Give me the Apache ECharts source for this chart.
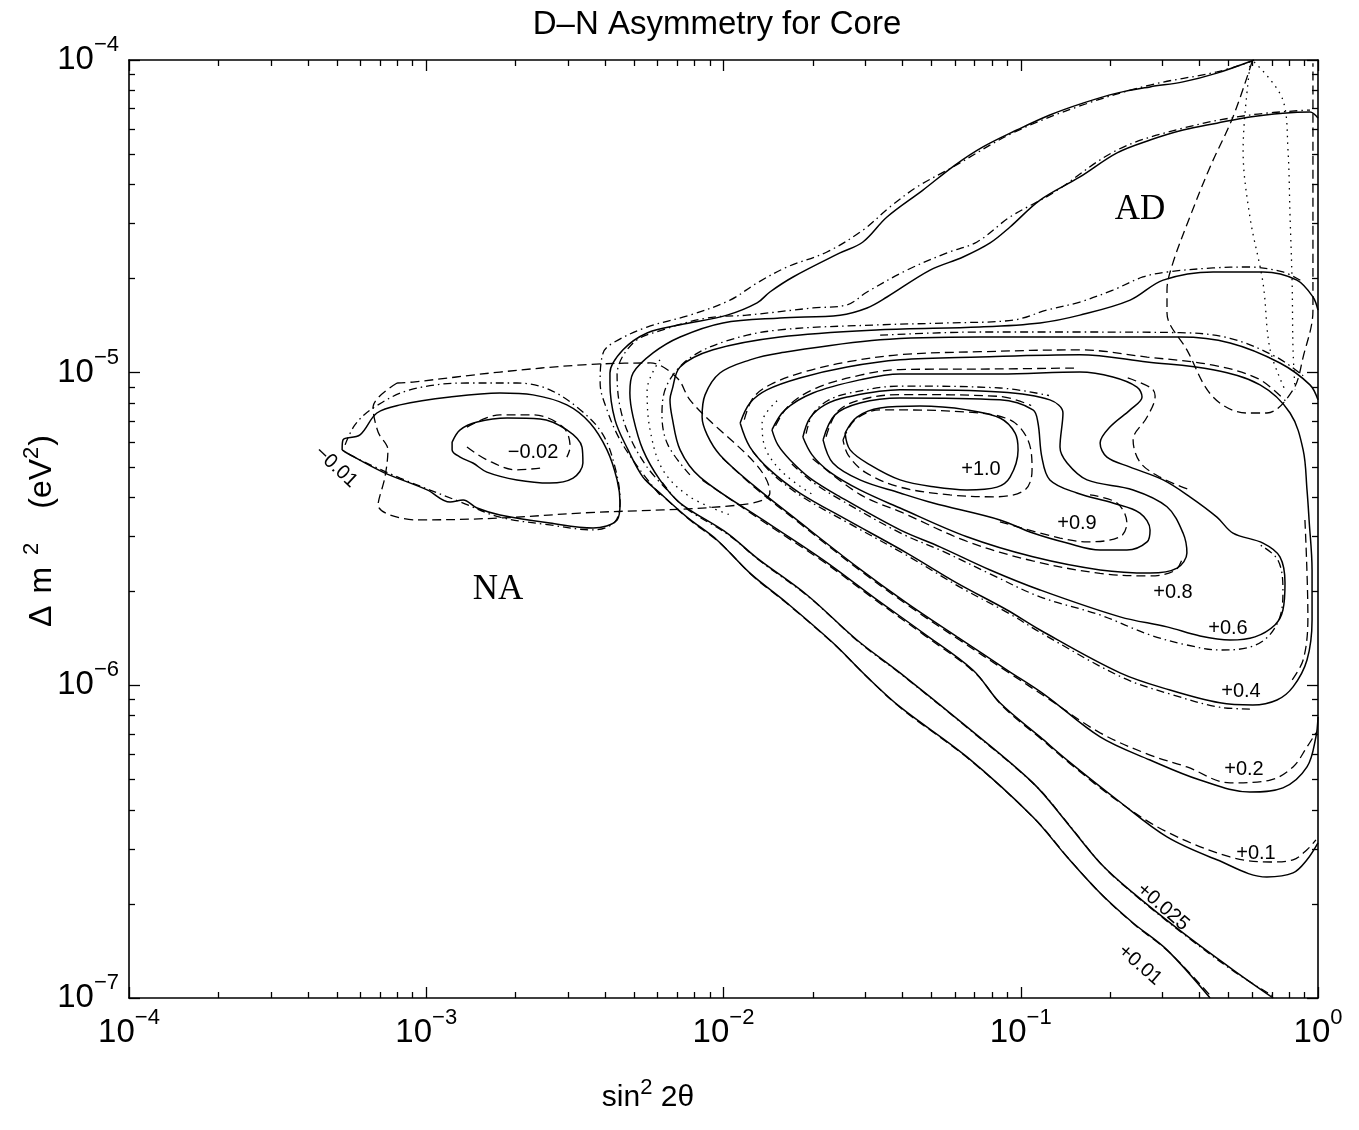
<!DOCTYPE html>
<html>
<head>
<meta charset="utf-8">
<title>D-N Asymmetry for Core</title>
<script src="https://cdn.jsdelivr.net/npm/echarts@6/dist/echarts.min.js"></script>
<style>
html, body { margin: 0; padding: 0; background: #fff; }
#chart { width: 1359px; height: 1130px; }
</style>
</head>
<body>
<div id="chart"></div>
<script>
// all points are [log10(sin^2 2theta), log10(dm^2 / eV^2)]
const xDecades = [-4, -3, -2, -1, 0];
const yDecades = [-7, -6, -5, -4];

// solid contours (one per asymmetry level)
const solid01 = [[-0.215,-4.000],[-0.340,-4.042],[-0.454,-4.070],[-0.565,-4.086],[-0.676,-4.106],[-0.791,-4.138],[-0.902,-4.176],[-1.013,-4.224],[-1.127,-4.278],[-1.221,-4.336],[-1.329,-4.416],[-1.450,-4.502],[-1.531,-4.582],[-1.608,-4.617],[-1.766,-4.694],[-1.844,-4.742],[-1.887,-4.777],[-1.988,-4.816],[-2.146,-4.847],[-2.257,-4.873],[-2.338,-4.927],[-2.382,-5.001],[-2.382,-5.033],[-2.365,-5.151],[-2.321,-5.247],[-2.271,-5.334],[-2.214,-5.385],[-2.123,-5.462],[-2.022,-5.535],[-1.911,-5.641],[-1.786,-5.737],[-1.632,-5.864],[-1.517,-5.973],[-1.406,-6.069],[-1.181,-6.229],[-0.959,-6.421],[-0.844,-6.549],[-0.733,-6.664],[-0.622,-6.760],[-0.508,-6.846],[-0.363,-7.000]];
const solid025 = [[0,-4.186],[-0.027,-4.166],[-0.118,-4.170],[-0.229,-4.182],[-0.340,-4.202],[-0.454,-4.224],[-0.565,-4.256],[-0.676,-4.297],[-0.801,-4.374],[-0.935,-4.448],[-1.036,-4.534],[-1.103,-4.585],[-1.194,-4.630],[-1.305,-4.672],[-1.450,-4.758],[-1.517,-4.793],[-1.608,-4.816],[-1.810,-4.825],[-2.002,-4.841],[-2.146,-4.886],[-2.237,-4.937],[-2.304,-5.001],[-2.315,-5.065],[-2.304,-5.142],[-2.271,-5.247],[-2.214,-5.343],[-2.146,-5.417],[-1.988,-5.513],[-1.887,-5.593],[-1.719,-5.711],[-1.551,-5.855],[-1.406,-5.960],[-1.181,-6.133],[-0.959,-6.312],[-0.844,-6.440],[-0.733,-6.568],[-0.622,-6.664],[-0.454,-6.792],[-0.286,-6.910],[-0.151,-7.000]];
const solid1 = [[0,-4.800],[-0.017,-4.758],[-0.071,-4.704],[-0.185,-4.678],[-0.353,-4.678],[-0.521,-4.704],[-0.632,-4.768],[-0.801,-4.816],[-0.935,-4.841],[-1.137,-4.854],[-1.473,-4.863],[-1.810,-4.886],[-2.035,-4.927],[-2.146,-4.982],[-2.173,-5.055],[-2.180,-5.087],[-2.173,-5.142],[-2.146,-5.247],[-2.079,-5.334],[-1.867,-5.471],[-1.665,-5.599],[-1.497,-5.717],[-1.329,-5.832],[-1.161,-5.951],[-1.070,-6.056],[-0.935,-6.165],[-0.844,-6.239],[-0.676,-6.366],[-0.508,-6.485],[-0.340,-6.558],[-0.172,-6.613],[-0.084,-6.600],[-0.037,-6.558],[0,-6.504]];
const solid2 = [[0,-5.087],[-0.027,-5.039],[-0.128,-4.969],[-0.296,-4.905],[-0.464,-4.886],[-0.801,-4.886],[-1.137,-4.886],[-1.473,-4.895],[-1.810,-4.937],[-1.911,-4.959],[-2.012,-5.001],[-2.062,-5.071],[-2.072,-5.142],[-2.055,-5.199],[-2.012,-5.263],[-1.901,-5.359],[-1.753,-5.471],[-1.551,-5.621],[-1.383,-5.737],[-1.214,-5.845],[-1.046,-5.951],[-0.918,-6.031],[-0.733,-6.165],[-0.565,-6.239],[-0.397,-6.303],[-0.229,-6.341],[-0.118,-6.328],[-0.037,-6.261],[-0.007,-6.165],[0,-6.101]];
const solid4 = [[-1.944,-5.161],[-1.911,-5.097],[-1.854,-5.055],[-1.743,-5.017],[-1.584,-4.982],[-1.406,-4.959],[-1.137,-4.950],[-0.801,-4.943],[-0.575,-4.966],[-0.353,-4.991],[-0.195,-5.039],[-0.094,-5.129],[-0.050,-5.247],[-0.037,-5.375],[-0.030,-5.471],[-0.020,-5.631],[-0.020,-5.791],[-0.037,-5.919],[-0.084,-6.005],[-0.138,-6.047],[-0.219,-6.063],[-0.330,-6.056],[-0.498,-6.015],[-0.666,-5.960],[-0.935,-5.823],[-1.046,-5.759],[-1.214,-5.673],[-1.383,-5.577],[-1.584,-5.471],[-1.743,-5.385],[-1.844,-5.311],[-1.911,-5.238],[-1.944,-5.161]];
const solid6 = [[-1.837,-5.183],[-1.793,-5.119],[-1.699,-5.065],[-1.541,-5.023],[-1.406,-5.004],[-1.070,-5.004],[-0.801,-4.998],[-0.690,-5.014],[-0.609,-5.046],[-0.592,-5.078],[-0.632,-5.119],[-0.700,-5.174],[-0.733,-5.225],[-0.710,-5.270],[-0.632,-5.302],[-0.521,-5.343],[-0.431,-5.397],[-0.340,-5.462],[-0.286,-5.513],[-0.185,-5.545],[-0.128,-5.589],[-0.111,-5.673],[-0.118,-5.759],[-0.145,-5.807],[-0.212,-5.845],[-0.296,-5.855],[-0.397,-5.842],[-0.508,-5.813],[-0.666,-5.781],[-0.935,-5.695],[-1.103,-5.631],[-1.272,-5.557],[-1.406,-5.503],[-1.608,-5.397],[-1.709,-5.337],[-1.776,-5.279],[-1.817,-5.231],[-1.837,-5.183]];
const solid8 = [[-1.733,-5.206],[-1.709,-5.145],[-1.659,-5.103],[-1.584,-5.078],[-1.406,-5.055],[-1.070,-5.062],[-0.902,-5.087],[-0.858,-5.129],[-0.868,-5.238],[-0.844,-5.289],[-0.777,-5.343],[-0.622,-5.375],[-0.508,-5.429],[-0.454,-5.513],[-0.441,-5.577],[-0.474,-5.625],[-0.565,-5.641],[-0.733,-5.631],[-0.959,-5.589],[-1.181,-5.525],[-1.406,-5.433],[-1.541,-5.375],[-1.642,-5.318],[-1.702,-5.263],[-1.733,-5.206]];
const solid9 = [[-1.665,-5.215],[-1.625,-5.135],[-1.541,-5.097],[-1.406,-5.081],[-1.070,-5.087],[-0.959,-5.119],[-0.942,-5.161],[-0.929,-5.270],[-0.902,-5.343],[-0.811,-5.385],[-0.690,-5.417],[-0.599,-5.449],[-0.565,-5.503],[-0.575,-5.541],[-0.643,-5.567],[-0.733,-5.567],[-0.844,-5.545],[-0.959,-5.513],[-1.070,-5.471],[-1.295,-5.417],[-1.406,-5.385],[-1.541,-5.343],[-1.632,-5.289],[-1.665,-5.215]];
const solid10 = [[-1.591,-5.193],[-1.551,-5.142],[-1.473,-5.113],[-1.339,-5.107],[-1.181,-5.119],[-1.070,-5.145],[-1.019,-5.193],[-1.009,-5.247],[-1.036,-5.334],[-1.080,-5.366],[-1.181,-5.375],[-1.288,-5.366],[-1.406,-5.343],[-1.507,-5.295],[-1.574,-5.247],[-1.591,-5.193]];
const solidM01 = [[-3.283,-5.247],[-3.280,-5.215],[-3.223,-5.199],[-3.166,-5.129],[-3.088,-5.103],[-2.920,-5.078],[-2.752,-5.065],[-2.641,-5.071],[-2.527,-5.103],[-2.449,-5.161],[-2.392,-5.247],[-2.358,-5.343],[-2.348,-5.417],[-2.358,-5.471],[-2.439,-5.497],[-2.584,-5.481],[-2.752,-5.455],[-2.829,-5.433],[-2.876,-5.407],[-2.920,-5.414],[-2.997,-5.375],[-3.146,-5.318],[-3.267,-5.257],[-3.283,-5.247]];
const solidM02 = [[-2.913,-5.222],[-2.886,-5.183],[-2.829,-5.158],[-2.728,-5.145],[-2.617,-5.148],[-2.527,-5.183],[-2.476,-5.238],[-2.473,-5.289],[-2.506,-5.337],[-2.584,-5.353],[-2.695,-5.343],[-2.796,-5.318],[-2.843,-5.289],[-2.886,-5.270],[-2.913,-5.247],[-2.913,-5.222]];

// dash-dot / dashed companions (the other Earth models)
const dashdot01 = [[-2.214,-5.391],[-2.281,-5.311],[-2.348,-5.215],[-2.392,-5.119],[-2.415,-5.033],[-2.405,-4.937],[-2.372,-4.905],[-2.257,-4.854],[-2.113,-4.816],[-1.978,-4.768],[-1.887,-4.713],[-1.786,-4.662],[-1.652,-4.614],[-1.531,-4.544],[-1.440,-4.470],[-1.349,-4.406],[-1.228,-4.342],[-1.026,-4.233],[-0.801,-4.147],[-0.565,-4.080],[-0.340,-4.038],[-0.222,-4.004]];
const dash01diag = [[-2.263,-5.342],[-2.206,-5.393],[-2.115,-5.470],[-2.014,-5.543],[-1.903,-5.649],[-1.778,-5.745],[-1.624,-5.872],[-1.509,-5.981],[-1.398,-6.077],[-1.173,-6.237],[-0.951,-6.429],[-0.836,-6.557],[-0.725,-6.672],[-0.614,-6.768],[-0.500,-6.854],[-0.355,-7.000]];
const dashdot025 = [[-2.190,-5.375],[-2.257,-5.302],[-2.315,-5.206],[-2.348,-5.110],[-2.358,-5.007],[-2.304,-4.905],[-2.204,-4.863],[-2.055,-4.825],[-1.921,-4.816],[-1.699,-4.793],[-1.584,-4.783],[-1.517,-4.742],[-1.383,-4.672],[-1.248,-4.617],[-1.147,-4.582],[-1.036,-4.502],[-0.891,-4.425],[-0.676,-4.288],[-0.454,-4.218],[-0.229,-4.176],[-0.027,-4.160]];
const dash025diag = [[-2.206,-5.351],[-2.138,-5.425],[-1.980,-5.521],[-1.879,-5.601],[-1.711,-5.719],[-1.543,-5.863],[-1.398,-5.968],[-1.173,-6.141],[-0.951,-6.320],[-0.836,-6.448],[-0.725,-6.576],[-0.614,-6.672],[-0.446,-6.800],[-0.278,-6.918],[-0.140,-7.000]];
const dashdot1 = [[-2.113,-5.327],[-2.187,-5.231],[-2.207,-5.135],[-2.190,-5.039],[-2.113,-4.953],[-1.978,-4.895],[-1.810,-4.863],[-1.473,-4.847],[-1.248,-4.841],[-1.026,-4.832],[-0.912,-4.800],[-0.801,-4.774],[-0.690,-4.736],[-0.589,-4.694],[-0.508,-4.678],[-0.353,-4.665],[-0.239,-4.662],[-0.118,-4.678],[-0.050,-4.710]];
const dash1diag = [[-2.071,-5.344],[-1.859,-5.481],[-1.657,-5.609],[-1.489,-5.727],[-1.321,-5.842],[-1.153,-5.961],[-1.062,-6.066],[-0.927,-6.175],[-0.836,-6.249],[-0.668,-6.374],[-0.508,-6.469],[-0.296,-6.549],[-0.161,-6.565],[-0.084,-6.558],[-0.037,-6.526],[-0.007,-6.494]];
const dashdot2 = [[-1.473,-4.880],[-1.137,-4.870],[-0.801,-4.870],[-0.464,-4.872],[-0.296,-4.890],[-0.140,-4.950],[-0.050,-5.010]];
const dash2diag = [[-2.004,-5.273],[-1.893,-5.369],[-1.745,-5.481],[-1.543,-5.631],[-1.375,-5.747],[-1.206,-5.855],[-1.038,-5.961],[-0.910,-6.041],[-0.733,-6.152],[-0.565,-6.223],[-0.441,-6.261],[-0.296,-6.312],[-0.161,-6.303],[-0.084,-6.261],[-0.037,-6.197],[-0.007,-6.152]];
const dash4top = [[-1.930,-5.150],[-1.900,-5.080],[-1.840,-5.037],[-1.730,-4.998],[-1.580,-4.965],[-1.400,-4.942],[-1.137,-4.933],[-0.801,-4.927],[-0.575,-4.950],[-0.353,-4.976],[-0.200,-5.020],[-0.110,-5.090]];
const dash4diag = [[-1.903,-5.250],[-1.836,-5.323],[-1.735,-5.397],[-1.576,-5.483],[-1.375,-5.589],[-1.206,-5.685],[-1.038,-5.771],[-0.927,-5.835],[-0.658,-5.975],[-0.490,-6.030],[-0.330,-6.070],[-0.219,-6.076]];
const dash4right = [[-0.044,-5.471],[-0.034,-5.781],[-0.050,-5.919],[-0.094,-5.992]];
const dash6top = [[-1.825,-5.170],[-1.780,-5.105],[-1.690,-5.050],[-1.540,-5.008],[-1.406,-4.990],[-1.070,-4.988],[-0.807,-4.985]];
const dash6low = [[-1.770,-5.292],[-1.700,-5.350],[-1.600,-5.410],[-1.400,-5.515],[-1.265,-5.570],[-1.100,-5.645],[-0.935,-5.717],[-0.733,-5.775],[-0.565,-5.839],[-0.441,-5.871],[-0.330,-5.887],[-0.239,-5.880],[-0.172,-5.848],[-0.128,-5.781],[-0.118,-5.695],[-0.135,-5.599],[-0.195,-5.551]];
const dash6bend = [[-0.640,-5.017],[-0.560,-5.050],[-0.548,-5.075],[-0.575,-5.142],[-0.622,-5.215],[-0.599,-5.286],[-0.532,-5.334],[-0.431,-5.375]];
const dash8top = [[-1.722,-5.195],[-1.700,-5.133],[-1.650,-5.090],[-1.580,-5.066],[-1.406,-5.043],[-1.070,-5.049],[-0.905,-5.073]];
const dash8low = [[-1.700,-5.275],[-1.540,-5.390],[-1.400,-5.447],[-1.180,-5.540],[-0.960,-5.602],[-0.733,-5.642],[-0.565,-5.650],[-0.480,-5.632],[-0.455,-5.590]];
const dash9top = [[-1.655,-5.205],[-1.617,-5.125],[-1.540,-5.087],[-1.406,-5.070],[-1.070,-5.076],[-0.965,-5.105]];
const dash9 = [[-1.070,-5.477],[-0.868,-5.529],[-0.777,-5.541],[-0.666,-5.525],[-0.643,-5.481],[-0.676,-5.417],[-0.767,-5.391]];
const dash10 = [[-1.598,-5.215],[-1.558,-5.151],[-1.473,-5.119],[-1.181,-5.126],[-1.036,-5.151],[-0.976,-5.215],[-0.962,-5.311],[-0.986,-5.375],[-1.087,-5.397],[-1.238,-5.391],[-1.406,-5.366],[-1.524,-5.318],[-1.581,-5.263],[-1.598,-5.215]];
const dashdotM01 = [[-3.273,-5.231],[-3.240,-5.167],[-3.179,-5.113],[-3.055,-5.055],[-2.863,-5.033],[-2.695,-5.033],[-2.584,-5.055],[-2.473,-5.126],[-2.405,-5.199],[-2.365,-5.302],[-2.348,-5.407],[-2.365,-5.477],[-2.439,-5.503],[-2.584,-5.487],[-2.752,-5.462],[-2.886,-5.413],[-3.088,-5.337],[-3.223,-5.279],[-3.273,-5.254]];
const dashM02a = [[-2.863,-5.174],[-2.752,-5.135],[-2.641,-5.135],[-2.540,-5.174],[-2.516,-5.238],[-2.527,-5.270]];
const dashM02b = [[-2.863,-5.238],[-2.796,-5.279],[-2.695,-5.311],[-2.617,-5.305]];
const dotTurn = [[-2.214,-4.959],[-2.257,-5.055],[-2.247,-5.183],[-2.204,-5.311],[-2.113,-5.397],[-1.978,-5.455]];
const dotTurn2 = [[-1.820,-5.090],[-1.870,-5.160],[-1.860,-5.240],[-1.800,-5.320],[-1.700,-5.390]];

// NA / AD region boundaries
const naBoundary = [[-3.098,-5.033],[-3.179,-5.110],[-3.162,-5.190],[-3.129,-5.247],[-3.139,-5.334],[-3.162,-5.423],[-3.031,-5.471],[-2.752,-5.465],[-2.483,-5.449],[-1.944,-5.423],[-1.844,-5.385],[-2.113,-5.087],[-2.156,-5.017],[-2.247,-4.969],[-2.473,-4.975],[-2.752,-4.998],[-3.045,-5.030],[-3.098,-5.033]];
const adBoundary = [[-0.222,-4.006],[-0.286,-4.182],[-0.363,-4.342],[-0.431,-4.502],[-0.488,-4.649],[-0.508,-4.736],[-0.508,-4.809],[-0.441,-4.927],[-0.353,-5.078],[-0.239,-5.129],[-0.172,-5.129],[-0.084,-5.055],[-0.050,-4.950],[-0.017,-4.800],[-0.017,-4.010]];
const adDot1 = [[-0.215,-4.006],[-0.118,-4.128],[-0.101,-4.288],[-0.094,-4.502],[-0.087,-4.713],[-0.084,-4.927],[-0.077,-5.055]];
const adDot2 = [[-0.229,-4.019],[-0.252,-4.288],[-0.229,-4.502],[-0.185,-4.713],[-0.161,-4.927],[-0.111,-5.055]];

// [x, y, text, rotation in degrees]
const contourLabels = [
  [-1.134, -5.308, '+1.0', 0], [-0.811, -5.481, '+0.9', 0], [-0.488, -5.701, '+0.8', 0],
  [-0.303, -5.816, '+0.6', 0], [-0.259, -6.018, '+0.4', 0], [-0.249, -6.267, '+0.2', 0],
  [-0.209, -6.536, '+0.1', 0], [-0.521, -6.709, '+0.025', -41], [-0.599, -6.894, '+0.01', -41],
  [-2.641, -5.254, '\u22120.02', 0], [-3.304, -5.302, '\u22120.01', -43]
];
const regionLabels = [[-2.759, -5.695, 'NA'], [-0.599, -4.480, 'AD']];

const SANS = 'Liberation Sans, Arial, Helvetica, sans-serif';
const SERIF = 'Liberation Serif, Times New Roman, serif';

const minorX = [];
xDecades.slice(0, -1).forEach((n) => { for (let k = 2; k <= 9; k++) minorX.push(n + Math.log10(k)); });
const minorY = [];
yDecades.slice(0, -1).forEach((n) => { for (let k = 2; k <= 9; k++) minorY.push(n + Math.log10(k)); });

const powLabel = (v) => '{b|10}{s|' + (v === 0 ? '0' : '\u2212' + Math.abs(v)) + '}';
const powRich = {
  b: { fontSize: 33, fontFamily: SANS, color: '#000', lineHeight: 38 },
  s: { fontSize: 22, fontFamily: SANS, color: '#000', padding: [0, 0, 30, 0] },
};

function axis(pos, min, max, major, labels, minors) {
  const a = {
    type: 'value', position: pos, min, max,
    splitLine: { show: false },
    axisLine: { show: major, onZero: false, lineStyle: { color: '#000', width: 1.6 } },
    axisTick: { show: true, inside: true, length: major ? 11 : 6, lineStyle: { color: '#000', width: 1.3 } },
    axisLabel: { show: false },
  };
  if (major) a.interval = 1; else a.axisTick.customValues = minors;
  if (labels) {
    a.axisLabel = { show: true, formatter: powLabel, rich: powRich, margin: pos === 'bottom' ? 9 : 10 };
  }
  return a;
}

const styles = {
  solid: { type: 'solid', width: 1.5 },
  dash: { type: [9, 5], width: 1.3 },
  dashdot: { type: [8, 4, 1.5, 4], width: 1.3 },
  dot: { type: [1.5, 5], width: 1.3 },
};
const lines = [
  [solid01, 'solid'], [solid025, 'solid'], [solid1, 'solid'], [solid2, 'solid'], [solid4, 'solid'],
  [solid6, 'solid'], [solid8, 'solid'], [solid9, 'solid'], [solid10, 'solid'],
  [solidM01, 'solid'], [solidM02, 'solid'],
  [dashdot01, 'dashdot'], [dash01diag, 'dash'], [dashdot025, 'dashdot'], [dash025diag, 'dashdot'],
  [dashdot1, 'dashdot'], [dash1diag, 'dash'], [dashdot2, 'dashdot'], [dash2diag, 'dash'],
  [dash4top, 'dash'], [dash4diag, 'dashdot'], [dash4right, 'dash'],
  [dash6top, 'dash'], [dash6low, 'dashdot'], [dash6bend, 'dash'],
  [dash8top, 'dashdot'], [dash8low, 'dash'], [dash9top, 'dash'], [dash9, 'dash'], [dash10, 'dash'],
  [dashdotM01, 'dashdot'], [dashM02a, 'dash'], [dashM02b, 'dash'],
  [dotTurn, 'dot'], [dotTurn2, 'dot'], [naBoundary, 'dash'], [adBoundary, 'dash'], [adDot1, 'dot'], [adDot2, 'dot'],
];

const series = lines.map(([data, st]) => ({
  type: 'line', xAxisIndex: 0, yAxisIndex: 0, data, showSymbol: false, symbol: 'none',
  smooth: 0.35, silent: true,
  lineStyle: Object.assign({ color: '#000' }, styles[st]),
}));

const chart = echarts.init(document.getElementById('chart'));
chart.setOption({
  animation: false,
  backgroundColor: '#fff',
  grid: { left: 129, top: 60, right: 41, bottom: 132, containLabel: false, outerBoundsMode: 'none' },
  xAxis: [
    axis('bottom', -4, 0, true, true), axis('bottom', -4, 0, false, false, minorX),
    axis('top', -4, 0, true, false), axis('top', -4, 0, false, false, minorX),
  ],
  yAxis: [
    axis('left', -7, -4, true, true), axis('left', -7, -4, false, false, minorY),
    axis('right', -7, -4, true, false), axis('right', -7, -4, false, false, minorY),
  ],
  series,
});

// texts placed through the chart's own coordinate system
const toPx = (x, y) => chart.convertToPixel({ xAxisIndex: 0, yAxisIndex: 0 }, [x, y]).map(Math.round);
const graphics = [
  { type: 'text', x: 717, y: 25, style: { text: 'D\u2013N Asymmetry for Core', fontFamily: SANS, fontSize: 33, fill: '#000', align: 'center', verticalAlign: 'middle' } },
  { type: 'text', x: 648, y: 1098, style: {
    text: '{t|sin}{s|2}{t| 2\u03b8}', align: 'center', verticalAlign: 'middle',
    rich: { t: { fontSize: 30, fontFamily: SANS, color: '#000' }, s: { fontSize: 22, fontFamily: SANS, color: '#000', padding: [0, 0, 20, 0] } } } },
  { type: 'text', x: 42, y: 531, rotation: Math.PI / 2, style: {
    text: '{t|\u0394}{m|m}{s|2}{p|(eV}{q|2}{t|)}', align: 'center', verticalAlign: 'middle',
    rich: {
      t: { fontSize: 32, fontFamily: SANS, color: '#000' },
      m: { fontSize: 32, fontFamily: SANS, color: '#000', padding: [0, 0, 0, 12] },
      p: { fontSize: 32, fontFamily: SANS, color: '#000', padding: [0, 0, 0, 34] },
      s: { fontSize: 22, fontFamily: SANS, color: '#000', padding: [0, 0, 20, 12] },
      q: { fontSize: 22, fontFamily: SANS, color: '#000', padding: [0, 1, 20, 0] },
    } } },
];
contourLabels.forEach(([x, y, t, r]) => {
  const [px, py] = toPx(x, y);
  graphics.push({ type: 'text', x: px, y: py, rotation: r * Math.PI / 180, style: { text: t, fontFamily: SANS, fontSize: 20, fill: '#000', align: 'center', verticalAlign: 'middle' } });
});
regionLabels.forEach(([x, y, t]) => {
  const [px, py] = toPx(x, y);
  graphics.push({ type: 'text', x: px, y: py, style: { text: t, fontFamily: SERIF, fontSize: 35, fill: '#000', align: 'center', verticalAlign: 'middle' } });
});
chart.setOption({ graphic: graphics });
</script>
</body>
</html>
